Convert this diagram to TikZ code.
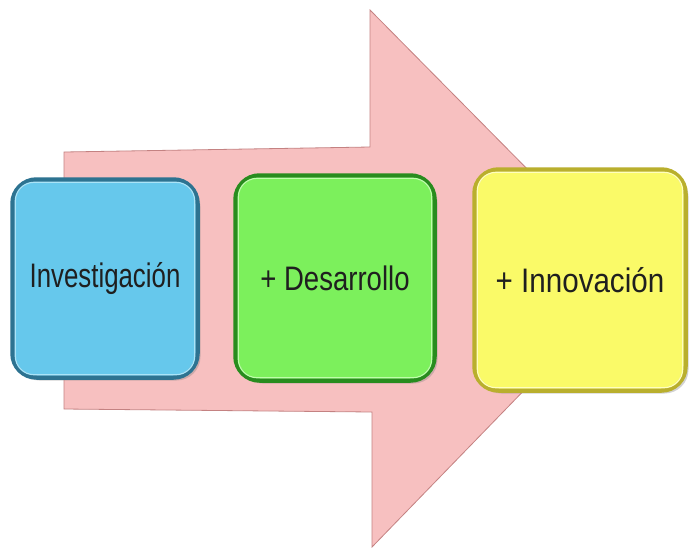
\documentclass[tikz,border=0pt]{standalone}
\usepackage{fontspec}
\setmainfont{Liberation Sans}
\usetikzlibrary{shadows}
\definecolor{pinkf}{RGB}{247,192,192}
\definecolor{pinkd}{RGB}{196,130,130}
\definecolor{bluef}{RGB}{102,200,236}
\definecolor{blued}{RGB}{45,115,145}
\definecolor{bluel}{RGB}{170,228,248}
\definecolor{greenf}{RGB}{124,240,92}
\definecolor{greend}{RGB}{40,140,30}
\definecolor{greenl}{RGB}{190,255,170}
\definecolor{yellowf}{RGB}{250,250,104}
\definecolor{yellowd}{RGB}{185,175,45}
\definecolor{yellowl}{RGB}{255,255,190}
\tikzset{
  bigarrow/.style={fill=pinkf, draw=pinkd, line width=0.8pt, line join=miter},
  stagebox/.style={rounded corners=24pt, line width=4.5pt, inner sep=0pt,
    font=\fontsize{34}{38}\selectfont, text=black!88,
    drop shadow={shadow xshift=3pt, shadow yshift=-3pt, opacity=0.35}},
  hilite/.style={line width=1.2pt, rounded corners=19pt}
}
\begin{document}
\begin{tikzpicture}[x=1pt,y=-1pt]
\useasboundingbox (0,0) rectangle (691,550);
\fill[white] (0,0) rectangle (691,550);
% big arrow
\draw[bigarrow] (64,152) -- (370,147) -- (370,10) -- (634,277) -- (372,547)
  -- (372,412) -- (64,409) -- cycle;
% boxes
\node[stagebox, fill=bluef, draw=blued, minimum width=185pt, minimum height=198pt]
  (inv) at (105,278.5) {\scalebox{0.76}[1]{Investigación}};
\node[stagebox, fill=greenf, draw=greend, minimum width=199pt, minimum height=205pt]
  (des) at (335,278) {\scalebox{0.81}[1]{+ Desarrollo}};
\node[stagebox, fill=yellowf, draw=yellowd, minimum width=211pt, minimum height=221pt]
  (inn) at (580,280) {\scalebox{0.87}[1]{+ Innovación}};
% bevel highlights
\draw[hilite, bluel] ([xshift=5pt,yshift=-5pt]inv.north west) rectangle ([xshift=-5pt,yshift=5pt]inv.south east);
\draw[hilite, greenl] ([xshift=5pt,yshift=-5pt]des.north west) rectangle ([xshift=-5pt,yshift=5pt]des.south east);
\draw[hilite, yellowl] ([xshift=5pt,yshift=-5pt]inn.north west) rectangle ([xshift=-5pt,yshift=5pt]inn.south east);
\end{tikzpicture}
\end{document}
